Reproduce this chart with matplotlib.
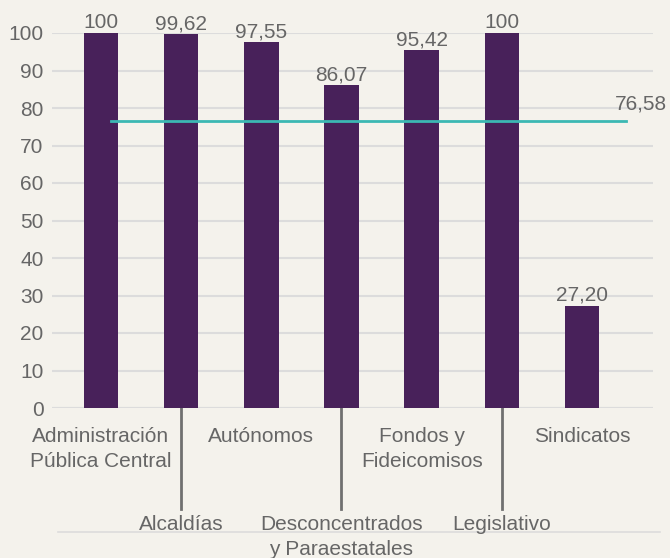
import matplotlib.pyplot as plt
import numpy as np

# datos
categorias = ["Administración\nPública Central", "Alcaldías", "Autónomos",
              "Desconcentrados\ny Paraestatales", "Fondos y\nFideicomisos",
              "Legislativo", "Sindicatos"]
valores = [100, 99.62, 97.55, 86.07, 95.42, 100, 27.20]
etiquetas = ["100", "99,62", "97,55", "86,07", "95,42", "100", "27,20"]
promedio = 76.58
promedio_txt = "76,58"

plt.rcParams['font.family'] = ['Liberation Sans', 'DejaVu Sans']
gris = '#666666'
fondo = '#f4f2ec'
fs = 15

fig = plt.figure(figsize=(6.7, 5.58), dpi=100, facecolor=fondo)
ax = fig.add_axes([52 / 670, 1 - 408 / 558, (653 - 52) / 670, (408 - 33) / 558])
ax.set_facecolor(fondo)

x = np.arange(len(categorias))
ax.bar(x, valores, width=0.43, color='#48215a', zorder=3)

for xi, v, t in zip(x, valores, etiquetas):
    ax.text(xi, v + 0.3, t, ha='center', va='bottom', fontsize=fs, color=gris)

# linea de promedio
ax.plot([0.12, 6.55], [promedio, promedio], color='#3bb8b3', lw=2, zorder=4)
ax.text(6.74, promedio + 2.0, promedio_txt, ha='center', va='bottom', fontsize=fs,
        color=gris, clip_on=False)

ax.set_ylim(0, 100)
ax.set_xlim(-0.61, 6.885)
ax.set_yticks(range(0, 101, 10))
ax.tick_params(axis='y', length=0, labelsize=fs, labelcolor=gris, pad=6)
ax.grid(axis='y', color='#dcdcdc', lw=1.5, zorder=0)
ax.set_xticks([])
for s in ax.spines.values():
    s.set_visible(False)
ax.axhline(0, color='#dcdcdc', lw=1.5, zorder=2)

# etiquetas de categoria alternadas
for i, c in enumerate(categorias):
    if i % 2 == 0:
        ax.text(i, -5.0, c, ha='center', va='top', fontsize=fs, color=gris,
                linespacing=1.4, clip_on=False)
    else:
        ax.plot([i, i], [0, -27], color='#707070', lw=2, clip_on=False)
        ax.text(i, -28.6, c, ha='center', va='top', fontsize=fs, color=gris,
                linespacing=1.4, clip_on=False)

# linea inferior tenue
ax.plot([-0.54, 6.97], [-33.0, -33.0], color='#dcdcdc', lw=1.2, clip_on=False, zorder=1)

fig.savefig('out.png', dpi=100, facecolor=fondo)
